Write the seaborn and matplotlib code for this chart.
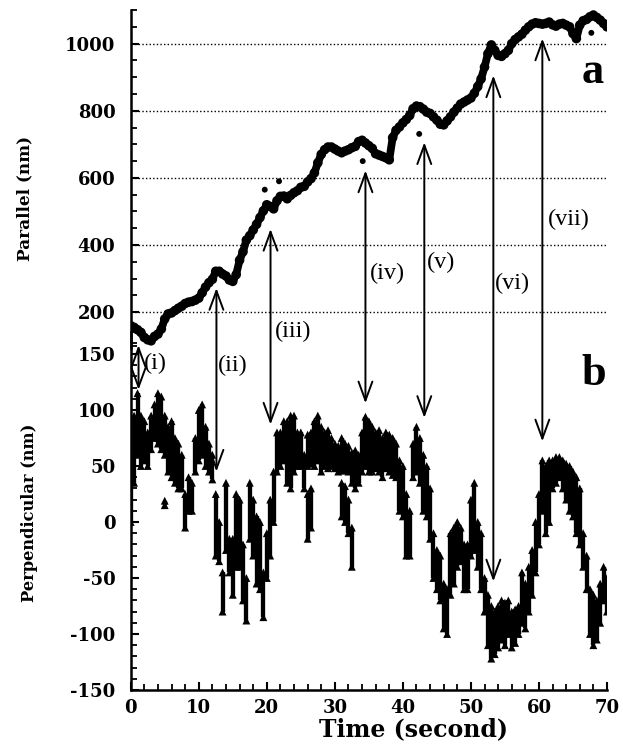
import numpy as np
import pandas as pd
import matplotlib
matplotlib.use("Agg")
import matplotlib.pyplot as plt
from matplotlib.ticker import MultipleLocator
import seaborn as sns

# ---- data -------------------------------------------------------------
# sampling grid of the traces (s)
time_s = np.arange(0.0, 70.5, 0.5)

# displacement parallel to the track (nm)
parallel_nm = [
    160, 155, 148, 140, 125, 118, 115, 128, 135, 150,
    180, 195, 198, 205, 212, 218, 226, 230, 232, 236,
    242, 258, 275, 288, 298, 322, 322, 314, 308, 296,
    292, 312, 355, 380, 415, 428, 445, 462, 482, 502,
    520, 515, 508, 532, 545, 546, 538, 548, 556, 562,
    572, 575, 588, 598, 615, 645, 670, 684, 692, 692,
    686, 680, 675, 680, 684, 690, 694, 708, 712, 704,
    696, 688, 672, 668, 664, 660, 654, 720, 742, 752,
    764, 774, 786, 806, 814, 812, 805, 796, 792, 782,
    772, 760, 758, 770, 782, 796, 808, 820, 826, 832,
    838, 852, 872, 895, 930, 970, 996, 980, 965, 962,
    970, 980, 1000, 1012, 1020, 1028, 1040, 1050, 1058, 1062,
    1060, 1058, 1060, 1064, 1056, 1052, 1058, 1060, 1055, 1050,
    1030, 1015, 1055, 1068, 1072, 1080, 1085, 1078, 1070, 1060,
    1050,
]

# isolated parallel readings
stray_time_s = [19.7, 21.8, 34.1, 42.4, 67.7]
stray_parallel_nm = [565, 590, 650, 731, 1032]

# perpendicular displacement: range spanned within each 0.5 s bin (nm)
perp_low_nm = [
    0, 35, 60, 50, 55, 50, 65, 75, 70, 65,
    60, 45, 40, 35, 30, 30, -5, 10, 10, 45,
    55, 60, 50, 45, 38, -30, -35, -80, -25, -45,
    -65, -40, -40, -70, -88, -15, -30, -55, -60, -85,
    -50, -30, 0, 45, 50, 55, 35, 30, 45, 50,
    50, 30, -15, -5, 50, 55, 45, 50, 48, 50,
    48, 45, 46, 46, 45, 35, 30, 35, 45, 50,
    45, 45, 48, 45, 40, 48, 45, 42, 40, 10,
    5, -30, -30, 40, 45, 35, 10, 5, -15, -50,
    -60, -70, -95, -100, -65, -55, -40, -35, -60, -60,
    -30, -25, -40, -60, -80, -110, -122, -118, -112, -105,
    -110, -100, -112, -108, -100, -90, -95, -80, -65, -45,
    -20, 10, -10, 0, 30, 35, 40, 30, 20, 10,
    5, -10, -20, -40, -60, -100, -110, -105, -90, -70,
    -80,
]
perp_high_nm = [
    55, 95, 115, 95, 90, 80, 95, 105, 115, 112,
    95, 85, 90, 75, 70, 60, 25, 40, 35, 75,
    100, 105, 85, 70, 60, 25, 0, -45, 35, -15,
    -15, 25, 20, -20, -50, 35, 20, 5, 0, -45,
    -10, 20, 45, 80, 80, 90, 90, 95, 95, 80,
    80, 60, 25, 30, 90, 95, 85, 80, 82, 75,
    70, 68, 75, 70, 68, 62, 64, 60, 80, 94,
    90, 85, 80, 82, 75, 80, 78, 75, 70, 55,
    50, 25, 10, 70, 85, 75, 60, 50, 30, -10,
    -25, -30, -55, -60, -10, -5, 0, -5, -20, -20,
    20, 35, 0, -10, -50, -65, -75, -80, -75, -70,
    -72, -70, -80, -78, -75, -45, -55, -40, -25, 0,
    25, 55, 50, 55, 55, 58, 58, 55, 52, 50,
    45, 40, 30, -10, -30, -60, -65, -70, -55, -40,
    -50,
]

# second cluster present in some bins
extra_time_s = [5.0, 26.0, 26.5, 31.0, 31.5, 32.0, 32.5]
extra_low_nm = [15, 50, 52, 5, 0, -10, -40]
extra_high_nm = [19, 78, 80, 35, 32, 20, -5]

# events linking both traces
event_labels = ["(i)", "(ii)", "(iii)", "(iv)", "(v)", "(vi)", "(vii)"]
event_time_s = [1.15, 12.6, 20.55, 34.5, 43.15, 53.3, 60.5]
event_parallel_nm = [102, 272, 448, 622, 706, 905, 1015]
event_perp_nm = [118, 45, 87, 106, 93, -53, 72]

# ---- style ------------------------------------------------------------
sns.set_theme(style="ticks")
plt.rcParams["font.family"] = ["DejaVu Serif"]
plt.rcParams["font.weight"] = "bold"
plt.rcParams["axes.labelweight"] = "bold"
plt.rcParams["axes.unicode_minus"] = False
for key in ("text.color", "axes.labelcolor", "xtick.color", "ytick.color",
            "axes.edgecolor"):
    plt.rcParams[key] = "black"

SPINE_W = 1.8
fig = plt.figure(figsize=(6.23, 7.47), dpi=100)
ax_b = fig.add_axes([0.2098, 0.0763, 0.7645, 0.4798])
ax_t = fig.add_axes([0.2098, 0.5348, 0.7645, 0.4518])
for ax in (ax_t, ax_b):
    ax.patch.set_alpha(0)
    ax.set_xlim(0, 70)
    for side in ("top", "right"):
        ax.spines[side].set_visible(False)
    for side in ("left", "bottom"):
        ax.spines[side].set_linewidth(SPINE_W)
        ax.spines[side].set_color("black")
    ax.tick_params(which="major", direction="in", length=6, width=1.5,
                   color="black", labelsize=13, labelcolor="black")
    ax.tick_params(which="minor", direction="in", length=4, width=1.3,
                   color="black")

# ---- parallel panel ---------------------------------------------------
ax_t.spines["bottom"].set_visible(False)
ax_t.set_ylim(95, 1100)
ax_t.yaxis.set_major_locator(MultipleLocator(200))
ax_t.yaxis.set_minor_locator(MultipleLocator(50))
ax_t.tick_params(axis="x", which="both", bottom=False, labelbottom=False)
ax_t.tick_params(axis="y", which="major", pad=11)
for level in (200, 400, 600, 800, 1000):
    ax_t.axhline(level, color="black", lw=1.0, ls=(0, (1.0, 1.6)), zorder=1)

sns.lineplot(x=time_s, y=parallel_nm, ax=ax_t, color="black", lw=5.6,
             solid_joinstyle="round", solid_capstyle="round", zorder=3)
sns.scatterplot(x=time_s, y=parallel_nm, ax=ax_t, color="black", s=48,
                edgecolor="none", zorder=3)
sns.scatterplot(x=stray_time_s, y=stray_parallel_nm, ax=ax_t, color="black",
                s=18, edgecolor="none", zorder=3)
ax_t.set_ylabel("Parallel (nm)", fontsize=12.2, fontweight="bold",
                color="black")
ax_t.yaxis.set_label_coords(-0.205, 0.443)

# ---- perpendicular panel ----------------------------------------------
ax_b.set_ylim(-150, 170)
ax_b.yaxis.set_major_locator(MultipleLocator(50))
ax_b.yaxis.set_minor_locator(MultipleLocator(10))
ax_b.xaxis.set_major_locator(MultipleLocator(10))
ax_b.xaxis.set_minor_locator(MultipleLocator(2))
ax_b.tick_params(axis="y", which="major", pad=11)
ax_b.tick_params(axis="x", which="major", pad=6.5)

ax_b.vlines(time_s, perp_low_nm, perp_high_nm, color="black", lw=3.1, zorder=3)
ax_b.vlines(extra_time_s, extra_low_nm, extra_high_nm, color="black", lw=3.1,
            zorder=3)
ends = pd.DataFrame({
    "t": np.concatenate([time_s, time_s, extra_time_s, extra_time_s]),
    "nm": np.concatenate([perp_low_nm, perp_high_nm, extra_low_nm, extra_high_nm]),
})
sns.scatterplot(data=ends, x="t", y="nm", ax=ax_b, marker="^", color="black",
                s=32, edgecolor="none", zorder=3)
ax_b.set_ylabel("Perpendicular (nm)", fontsize=11.7, fontweight="bold",
                color="black")
ax_b.yaxis.set_label_coords(-0.195, 0.494)
ax_b.set_xlabel("Time (second)", fontsize=17, fontweight="bold", color="black")
ax_b.xaxis.set_label_coords(0.594, -0.075)

# ---- event arrows and labels ------------------------------------------
for t, vt, vb in zip(event_time_s, event_parallel_nm, event_perp_nm):
    ax_t.annotate("", xy=(t, vb), xycoords=ax_b.transData,
                  xytext=(t, vt), textcoords=ax_t.transData,
                  arrowprops=dict(arrowstyle="<->,head_length=0.68,head_width=0.25",
                                  color="black", lw=1.4, shrinkA=0, shrinkB=0,
                                  mutation_scale=20),
                  annotation_clip=False, zorder=5)

label_spots = [(ax_b, 3.6, 142), (ax_b, 15.0, 140), (ax_t, 23.9, 144),
               (ax_t, 37.7, 317), (ax_t, 45.6, 347), (ax_t, 56.1, 287),
               (ax_t, 64.4, 475)]
for text, (ax, x, y) in zip(event_labels, label_spots):
    ax.text(x, y, text, ha="center", va="center", fontsize=17.5,
            family="Liberation Serif", fontweight="normal", color="black",
            zorder=6)

ax_t.text(67.9, 882, "a", ha="center", va="baseline", fontsize=32,
          family="Liberation Serif", fontweight="bold", color="black")
ax_b.text(68.0, 122, "b", ha="center", va="baseline", fontsize=32,
          family="Liberation Serif", fontweight="bold", color="black")

fig.savefig("out.png", dpi=100)
